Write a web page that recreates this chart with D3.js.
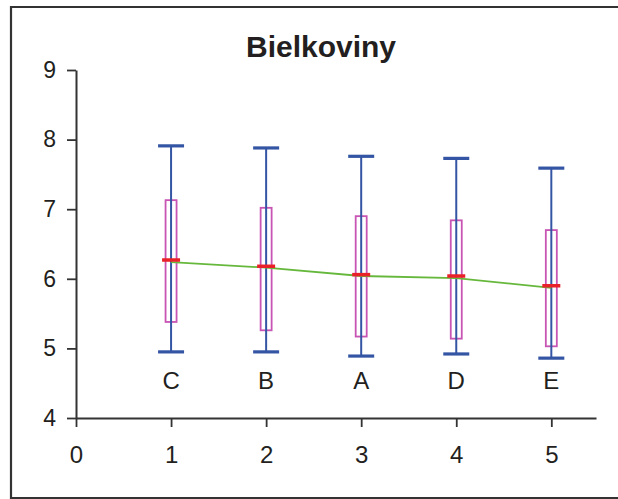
<!DOCTYPE html>
<html><head><meta charset="utf-8">
<script src="https://cdn.jsdelivr.net/npm/d3@7"></script>
<style>body{margin:0;background:#fff}svg{display:block}</style>
</head><body>
<svg id="c" width="618" height="499"></svg>
<script>
const categories = ["C","B","A","D","E"];
const positions = [1,2,3,4,5];
const whiskerHigh = [7.91,7.88,7.76,7.73,7.59];
const boxHigh = [7.13,7.02,6.90,6.84,6.70];
const medians = [6.27,6.18,6.06,6.04,5.90];
const boxLow = [5.38,5.26,5.17,5.14,5.03];
const whiskerLow = [4.95,4.95,4.89,4.92,4.86];
const means = [6.24,6.16,6.04,6.01,5.87];
const xTicks = [0,1,2,3,4,5];
const yTicks = [4,5,6,7,8,9];

const svg = d3.select("#c");
const x = d3.scaleLinear().domain([0,5.47]).range([76,596]);
const y = d3.scaleLinear().domain([4,9]).range([418,70]);
const axisColor = "#333";
const font = "Arial, 'Liberation Sans', sans-serif";

// frame
svg.append("path").attr("d","M11,499 L11,7 L618,7 M11,498 L618,498")
  .attr("fill","none").attr("stroke","#333").attr("stroke-width",2.2);

// title
svg.append("text").attr("x",321).attr("y",57).attr("text-anchor","middle")
  .attr("font-family",font).attr("font-weight","bold").attr("font-size",30)
  .attr("fill","#231f20").text("Bielkoviny");

// axes
const xAxis = d3.axisBottom(x).tickValues(xTicks).tickFormat(d3.format("d")).tickSize(9).tickSizeOuter(0).tickPadding(19);
const gx = svg.append("g").attr("transform","translate(0,418)").call(xAxis);
gx.select(".domain").attr("stroke",axisColor).attr("stroke-width",2);
gx.selectAll(".tick line").attr("stroke",axisColor).attr("stroke-width",1.8);
gx.selectAll("text").attr("font-family",font).attr("font-size",24).attr("fill","#231f20");

const yAxis = d3.axisLeft(y).tickValues(yTicks).tickFormat(d3.format("d")).tickSize(9).tickSizeOuter(0).tickPadding(11);
const gy = svg.append("g").attr("transform","translate(76,0)").call(yAxis);
gy.select(".domain").attr("stroke",axisColor).attr("stroke-width",2);
gy.selectAll(".tick line").attr("stroke",axisColor).attr("stroke-width",1.8);
gy.selectAll("text").attr("font-family",font).attr("font-size",23).attr("fill","#231f20");

const data = categories.map((c,i)=>({c,p:positions[i],wh:whiskerHigh[i],bh:boxHigh[i],m:medians[i],bl:boxLow[i],wl:whiskerLow[i],mean:means[i]}));

const blue = "#3455a4", mag = "#c855b4", red = "#e82228", green = "#66b83c";
const g = svg.append("g");
// boxes
g.selectAll("rect.box").data(data).join("rect").attr("class","box")
  .attr("x",d=>x(d.p)-5.5).attr("width",11)
  .attr("y",d=>y(d.bh)).attr("height",d=>y(d.bl)-y(d.bh))
  .attr("fill","none").attr("stroke",mag).attr("stroke-width",1.8);
// whisker line
g.selectAll("line.wh").data(data).join("line").attr("class","wh")
  .attr("x1",d=>x(d.p)).attr("x2",d=>x(d.p))
  .attr("y1",d=>y(d.wh)).attr("y2",d=>y(d.wl))
  .attr("stroke",blue).attr("stroke-width",2);
// caps
["wh","wl"].forEach(k=>{
  g.selectAll("line.cap"+k).data(data).join("line").attr("class","cap"+k)
    .attr("x1",d=>x(d.p)-13).attr("x2",d=>x(d.p)+13)
    .attr("y1",d=>y(d[k])).attr("y2",d=>y(d[k]))
    .attr("stroke",blue).attr("stroke-width",3.2);
});
// mean line
g.append("path").datum(data)
  .attr("d",d3.line().x(d=>x(d.p)).y(d=>y(d.mean)))
  .attr("fill","none").attr("stroke",green).attr("stroke-width",1.8);
// medians
g.selectAll("line.med").data(data).join("line").attr("class","med")
  .attr("x1",d=>x(d.p)-9).attr("x2",d=>x(d.p)+9)
  .attr("y1",d=>y(d.m)).attr("y2",d=>y(d.m))
  .attr("stroke",red).attr("stroke-width",3.5);
// category labels
g.selectAll("text.cat").data(data).join("text").attr("class","cat")
  .attr("x",d=>x(d.p)).attr("y",389).attr("text-anchor","middle")
  .attr("font-family",font).attr("font-size",24).attr("fill","#231f20")
  .text(d=>d.c);
</script>
</body></html>
